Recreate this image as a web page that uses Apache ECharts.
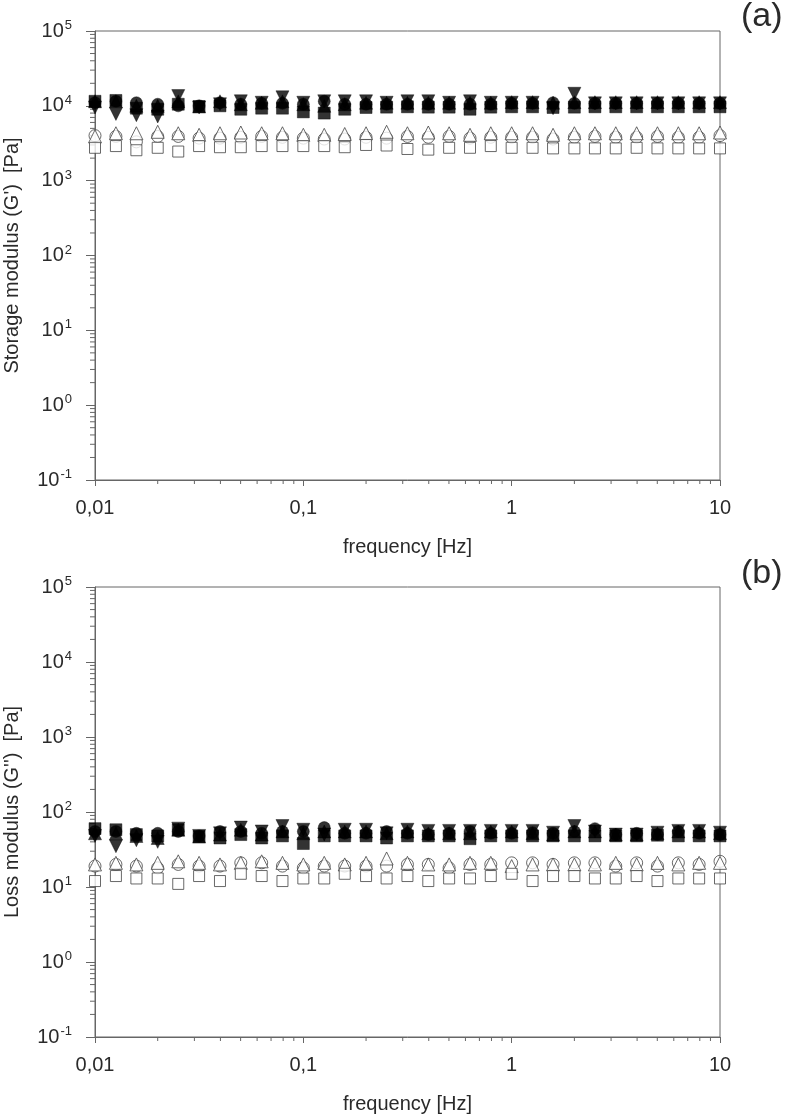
<!DOCTYPE html>
<html>
<head>
<meta charset="utf-8">
<script src="https://cdn.jsdelivr.net/npm/echarts@6/dist/echarts.min.js"></script>
<style>html,body{margin:0;padding:0;background:#fff}#c{width:792px;height:1118px}</style>
</head>
<body>
<div id="c"></div>
<script>
// frequency [Hz]
const freq = [0.01,0.0126,0.0158,0.02,0.0251,0.0316,0.0398,0.0501,0.0631,0.0794,
  0.1,0.126,0.158,0.2,0.251,0.316,0.398,0.501,0.631,0.794,
  1,1.26,1.58,2,2.51,3.16,3.98,5.01,6.31,7.94,10];

// (a) storage modulus G' [Pa]
const gpFilledSquare = [11500,11800,9300,9000,10500,9800,10000,9000,9300,9300,8300,8000,9000,9500,9600,9700,9600,9600,9000,9600,9700,9700,9500,9600,9700,9700,9700,9700,9700,9700,9700];
const gpFilledCircle = [11000,11500,11000,10500,10000,10000,11000,10500,10800,10800,10500,11500,10500,10500,10500,10500,10500,10500,10500,10500,10800,10800,11000,10800,10800,10800,10800,10800,10800,10800,10800];
const gpFilledTriUp = [11500,11500,10000,10000,11500,9800,11500,10500,11000,11500,10500,10000,10500,11000,11000,11000,11000,11000,11000,11000,11200,11200,11000,11200,11200,11200,11200,11200,11200,11200,11200];
const gpFilledTriDown = [9500,7800,7500,7200,13500,9500,10500,11500,11000,13000,11000,11500,11500,11500,11000,11500,11500,11000,11500,11000,11000,11000,9300,14500,10800,10800,10800,10800,10800,10800,10800];
const gpOpenTri = [3900,4300,4300,4500,4300,4100,4300,4400,4300,4300,4100,4100,4200,4300,4500,4300,4400,4300,4100,4300,4300,4300,4100,4300,4300,4300,4300,4300,4300,4300,4400];
const gpOpenCircle = [4000,3900,3300,3900,3900,3700,3700,3800,3900,3800,3700,3600,3600,3800,3700,3900,3800,3900,3700,3800,3800,3800,3600,3800,3900,3800,3800,3900,3800,3800,4000];
const gpOpenSquare = [2750,2900,2550,2750,2450,2900,2800,2800,2900,2900,2900,2900,2800,3000,2950,2650,2600,2750,2750,2900,2750,2750,2700,2700,2700,2700,2750,2700,2700,2700,2700];

// (b) loss modulus G'' [Pa]
const gppFilledSquare = [60,58,50,48,58,47,45,50,45,48,38,48,48,48,45,48,48,48,44,48,48,48,48,48,48,48,48,49,48,48,48];
const gppFilledCircle = [55,55,52,52,55,48,55,55,52,55,55,62,52,52,55,52,50,52,55,52,52,53,52,55,60,50,52,50,55,52,50];
const gppFilledTriUp = [52,52,48,45,58,47,50,58,50,55,52,55,55,55,52,55,52,52,52,55,55,52,50,55,55,50,50,52,55,55,52];
const gppFilledTriDown = [48,35,42,40,60,48,52,62,55,65,58,50,58,58,52,58,56,56,56,56,56,56,53,65,55,50,50,53,56,56,53];
const gppOpenTri = [20,21,20,21,22,21,20,21,22,21,20,21,20,21,24,21,20,20,21,21,19,20,20,20,20,21,20,21,20,21,21];
const gppOpenCircle = [19,20,19,18,20,19,19,21,21,19,18,19,19,19,19,20,20,18,20,20,21,21,20,21,21,19,21,19,21,20,22];
const gppOpenSquare = [12,14,13,13,11,14,12,15,14,12,13,13,15,14,13,14,12,13,13,14,15,12,14,14,13,13,14,12,13,13,13];

// axis decoration values (log minor ticks 2..9 per decade)
const yMinor = [];
for (let k = -1; k <= 4; k++) for (let m = 2; m <= 9; m++) yMinor.push(m * Math.pow(10, k));
const xMinor = [];
for (let k = -2; k <= 0; k++) for (let m = 2; m <= 9; m++) xMinor.push(m * Math.pow(10, k));

const FONT = '"Liberation Sans", Arial, sans-serif';
const TXT = '#2a2a2a';
const AX = '#666';

function pair(vals) { return freq.map((f, i) => [f, vals[i]]); }

function yAxisFor(gi, name) {
  return {
    type: 'log', logBase: 10, gridIndex: gi, min: 0.1, max: 100000, splitNumber: 6,
    name: name, nameLocation: 'middle', nameRotate: 90, nameGap: 73,
    nameTextStyle: { fontFamily: FONT, fontSize: 20, color: TXT },
    axisLine: { show: true, lineStyle: { color: AX, width: 1 } },
    axisTick: { show: true, inside: false, length: 9, lineStyle: { color: AX } },
    splitLine: { show: false },
    axisLabel: {
      margin: 23, fontFamily: FONT, color: TXT,
      formatter: function (v) {
        const e = Math.round(Math.log10(v));
        return '{b|10}{s|' + e + '}';
      },
      rich: {
        b: { fontSize: 20, fontFamily: FONT, color: TXT },
        s: { fontSize: 13, fontFamily: FONT, color: TXT, verticalAlign: 'bottom', padding: [0, 0, 11, 1] }
      }
    }
  };
}
function xAxisFor(gi) {
  return {
    type: 'log', logBase: 10, gridIndex: gi, min: 0.01, max: 10, splitNumber: 3,
    name: 'frequency [Hz]', nameLocation: 'middle', nameGap: 57,
    nameTextStyle: { fontFamily: FONT, fontSize: 20, color: TXT },
    axisLine: { show: true, lineStyle: { color: AX, width: 1 } },
    axisTick: { show: true, inside: false, length: 6, lineStyle: { color: AX } },
    splitLine: { show: false },
    axisLabel: {
      margin: 18, fontFamily: FONT, fontSize: 20, color: TXT,
      formatter: function (v) { return String(Number(v.toPrecision(6))).replace('.', ','); }
    }
  };
}

function minorSeries(gi) {
  return [{
    type: 'custom', xAxisIndex: gi, yAxisIndex: gi, silent: true, clip: false, z: 1,
    data: yMinor.map(v => [0.01, v]),
    renderItem: function (params, api) {
      const p = api.coord([api.value(0), api.value(1)]);
      return { type: 'line', shape: { x1: p[0] - 5, y1: p[1], x2: p[0], y2: p[1] }, style: { stroke: AX, lineWidth: 1 } };
    }
  }, {
    type: 'custom', xAxisIndex: gi, yAxisIndex: gi, silent: true, clip: false, z: 1,
    data: xMinor.map(v => [v, 0.1]),
    renderItem: function (params, api) {
      const p = api.coord([api.value(0), api.value(1)]);
      return { type: 'line', shape: { x1: p[0], y1: p[1], x2: p[0], y2: p[1] + 4 }, style: { stroke: AX, lineWidth: 1 } };
    }
  }];
}

function scatter(gi, vals, symbol, size, filled, rotate) {
  return {
    type: 'scatter', xAxisIndex: gi, yAxisIndex: gi, data: pair(vals),
    symbol: symbol, symbolSize: size, symbolRotate: rotate || 0,
    itemStyle: filled ? { color: '#000', borderColor: '#000', borderWidth: 0.5 }
                      : { color: '#fff', borderColor: '#444', borderWidth: 1 },
    emphasis: { disabled: true }, z: 3
  };
}

function panelSeries(gi, d) {
  return [
    scatter(gi, d[4], 'circle', 12, false),
    scatter(gi, d[5], 'triangle', 13, false),
    scatter(gi, d[6], 'rect', 11, false),
    scatter(gi, d[0], 'rect', 12, true),
    scatter(gi, d[1], 'circle', 12, true),
    scatter(gi, d[2], 'triangle', 13, true),
    scatter(gi, d[3], 'triangle', 13, true, 180)
  ].concat(minorSeries(gi));
}

const chart = echarts.init(document.getElementById('c'), null, { renderer: 'canvas' });
chart.setOption({
  animation: false,
  backgroundColor: '#fff',
  grid: [
    { left: 95, right: 72, top: 31, height: 449, show: true, borderColor: AX, borderWidth: 1, backgroundColor: 'transparent', containLabel: false, outerBoundsMode: 'none' },
    { left: 95, right: 72, top: 587, height: 450, show: true, borderColor: AX, borderWidth: 1, backgroundColor: 'transparent', containLabel: false, outerBoundsMode: 'none' }
  ],
  xAxis: [xAxisFor(0), xAxisFor(1)],
  yAxis: [yAxisFor(0, "Storage modulus (G')  [Pa]"), yAxisFor(1, "Loss modulus (G'')  [Pa]")],
  graphic: [
    { type: 'text', left: 741, top: 0, style: { text: '(a)', fontFamily: FONT, fontSize: 34, fill: TXT } },
    { type: 'text', left: 741, top: 557, style: { text: '(b)', fontFamily: FONT, fontSize: 34, fill: TXT } }
  ],
  series: panelSeries(0, [gpFilledSquare, gpFilledCircle, gpFilledTriUp, gpFilledTriDown, gpOpenCircle, gpOpenTri, gpOpenSquare])
    .concat(panelSeries(1, [gppFilledSquare, gppFilledCircle, gppFilledTriUp, gppFilledTriDown, gppOpenCircle, gppOpenTri, gppOpenSquare]))
});
</script>
</body>
</html>
